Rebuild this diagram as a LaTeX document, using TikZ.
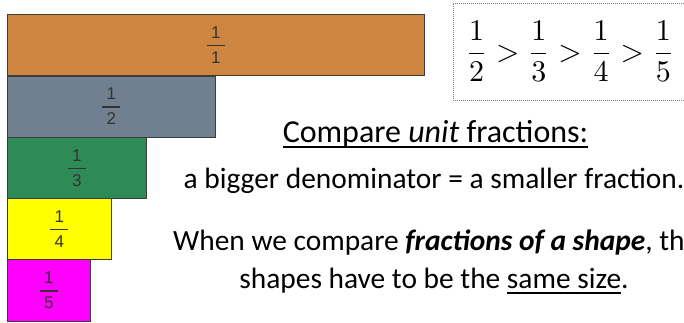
\documentclass[tikz,border=0pt]{standalone}
\usepackage{amsmath}
\usepackage[no-math]{fontspec}
\setmainfont{Carlito}
\newfontfamily\arialf{Liberation Sans}
\newcommand\bfr[2]{\vbox{\hbox to 18pt{\hss#1\hss}\kern6.5pt\hrule height 1.4pt\kern5.5pt\hbox to 18pt{\hss#2\hss}}}
\newcommand\myul[1]{\setbox0\hbox{#1}\rlap{\rule[-6pt]{\wd0}{2pt}}\box0}
\definecolor{barO}{HTML}{CD853F}
\definecolor{barG}{HTML}{708090}
\definecolor{barS}{HTML}{2E8B57}
\definecolor{barY}{HTML}{FFFF00}
\definecolor{barM}{HTML}{FF00FF}
\definecolor{edge}{HTML}{3C3C3C}
\definecolor{digit}{HTML}{333333}
\tikzset{
  fracbar/.style={draw=edge, line width=0.9pt, anchor=north west, inner sep=0pt,
    minimum height=61pt, text=digit, font=\arialf\fontsize{17}{17}\selectfont},
  body/.style={font=\fontsize{29.4}{35}\selectfont, inner sep=0pt},
  ineqbox/.style={draw=gray, line width=0.7pt, dash pattern=on 1pt off 1pt,
    minimum width=234pt, minimum height=97pt, inner sep=0pt}
}
\begin{document}
\begin{tikzpicture}[x=1pt,y=-1pt]
\clip (0,0) rectangle (684,322);
\fill[white] (0,0) rectangle (684,322);
\node[fracbar, fill=barO, minimum width=417pt] (b1) at (7,14) {\bfr{1}{1}};
\node[fracbar, fill=barG, minimum width=208pt] (b2) at (7,75.5) {\bfr{1}{2}};
\node[fracbar, fill=barS, minimum width=139pt] (b3) at (7,137) {\bfr{1}{3}};
\node[fracbar, fill=barY, minimum width=104pt] (b4) at (7,198) {\bfr{1}{4}};
\node[fracbar, fill=barM, minimum width=83pt, minimum height=62pt] (b5) at (7,259) {\bfr{1}{5}};
\node[ineqbox] (ineq) at (570,51.5) {\scalebox{3}{$\dfrac{1}{2}>\dfrac{1}{3}>\dfrac{1}{4}>\dfrac{1}{5}$}};
\node[body, font=\fontsize{32}{38}\selectfont, anchor=base] (t1) at (435.5,142) {\myul{Compare \textit{unit} fractions:}};
\node[body, anchor=base] (t2) at (434,188) {a bigger denominator = a smaller fraction.};
\node[body, anchor=base west] (t3) at (173,250) {When we compare \textbf{\textit{fractions of a shape}}, th};
\node[body, anchor=base] (t4) at (434,288) {shapes have to be the \myul{same size}.};
\end{tikzpicture}
\end{document}
